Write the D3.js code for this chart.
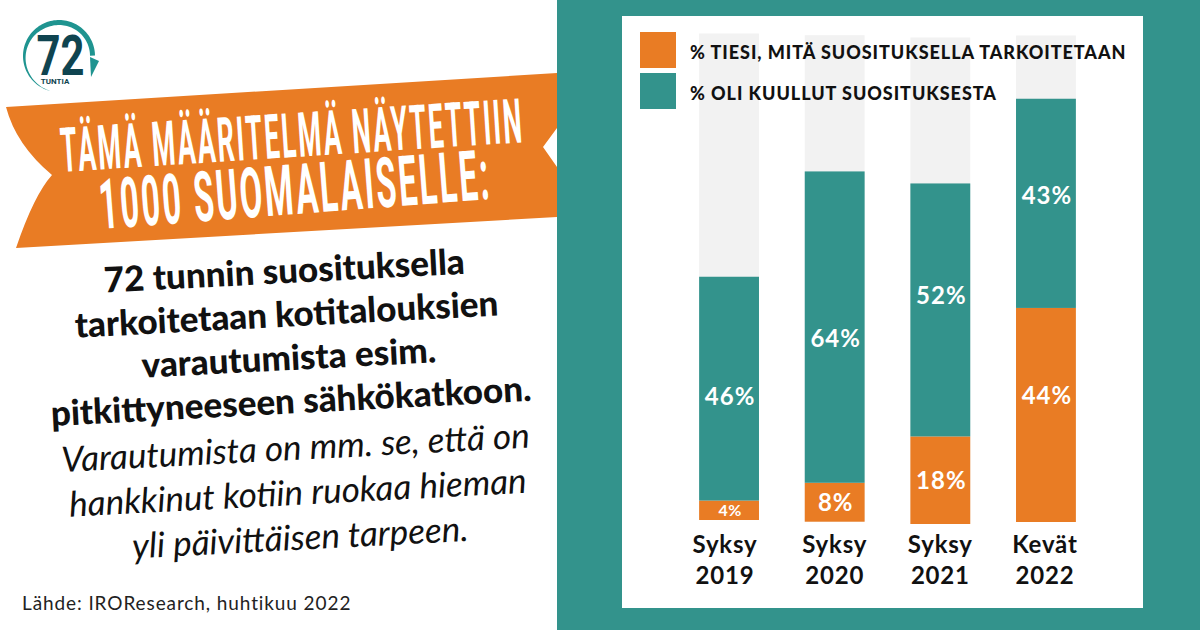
<!DOCTYPE html>
<html>
<head>
<meta charset="utf-8">
<script src="https://cdn.jsdelivr.net/npm/d3@7"></script>
<style>
  html, body { margin: 0; padding: 0; background: #fff; }
  svg { display: block; font-family: Lato, sans-serif; }
</style>
</head>
<body>
<script>
// chart values
const periods = ["Syksy 2019", "Syksy 2020", "Syksy 2021", "Kevät 2022"];
const knewMeaning = [4, 8, 18, 44];
const hadHeard = [46, 64, 52, 43];
const legendLabels = ["% TIESI, MITÄ SUOSITUKSELLA TARKOITETAAN", "% OLI KUULLUT SUOSITUKSESTA"];

// text of the left column
const bannerLines = ["TÄMÄ MÄÄRITELMÄ NÄYTETTIIN", "1000 SUOMALAISELLE:"];
const boldLines = ["72 tunnin suosituksella", "tarkoitetaan kotitalouksien", "varautumista esim.", "pitkittyneeseen sähkökatkoon."];
const italicLines = ["Varautumista on mm. se, että on", "hankkinut kotiin ruokaa hieman", "yli päivittäisen tarpeen."];
const sourceText = "Lähde: IROResearch, huhtikuu 2022";

const width = 1200;
const height = 630;
const orange = "#e97c24";
const teal = "#33938c";
const track = "#f2f2f2";

const svg = d3.select("body").append("svg")
	.attr("width", width)
	.attr("height", height)
	.attr("viewBox", [0, 0, width, height]);

svg.append("rect").attr("width", width).attr("height", height).attr("fill", "#fff");

// right hand panel
svg.append("rect").attr("x", 557).attr("width", 643).attr("height", height).attr("fill", teal);
svg.append("rect").attr("x", 622).attr("y", 16).attr("width", 521).attr("height", 592).attr("fill", "#fff");

// scales
const x = d3.scaleBand()
	.domain(periods)
	.range([678, 1097])
	.paddingInner(0.4333)
	.paddingOuter(0.2);

const y = d3.scaleLinear().domain([0, 100]).range([0, -486.5]);

// the source picture is a bit hand placed, each bar has its own baseline
const baselines = d3.scaleOrdinal().domain(periods).range([520, 521.7, 524, 522]);

const rows = periods.map((period, i) => ({period, knew: knewMeaning[i], heard: hadHeard[i]}));
const stacked = d3.stack().keys(["knew", "heard"])(rows);
const colors = d3.scaleOrdinal().domain(["knew", "heard"]).range([orange, teal]);

// value labels sit off centre in the source, pixels per bar
const labelNudge = {knew: [0, 0, 0, -20], heard: [8, 11, -15, -8]};

const bars = svg.append("g");

// grey 100 % tracks
bars.selectAll("rect.track")
	.data(rows)
	.join("rect")
	.attr("class", "track")
	.attr("x", (d) => x(d.period))
	.attr("width", x.bandwidth())
	.attr("y", (d) => baselines(d.period) + y(100))
	.attr("height", y(0) - y(100))
	.attr("fill", track);

const layer = bars.selectAll("g.layer")
	.data(stacked)
	.join("g")
	.attr("class", "layer")
	.attr("fill", (d) => colors(d.key));

layer.selectAll("rect")
	.data((d) => d)
	.join("rect")
	.attr("x", (d) => x(d.data.period))
	.attr("width", x.bandwidth())
	.attr("y", (d) => baselines(d.data.period) + y(d[1]))
	.attr("height", (d) => y(d[0]) - y(d[1]));

layer.each(function(series) {
	d3.select(this).selectAll("text")
		.data(series)
		.join("text")
		.attr("x", (d) => x(d.data.period) + x.bandwidth() / 2 + 1)
		.attr("y", (d, i) => baselines(d.data.period) + y((d[0] + d[1]) / 2) + labelNudge[series.key][i])
		.attr("dy", "0.36em")
		.attr("text-anchor", "middle")
		.attr("fill", "#fff")
		.attr("font-weight", 700)
		.attr("font-size", (d) => (d[1] - d[0] < 5 ? 16 : 24))
		.attr("letter-spacing", (d) => (d[1] - d[0] < 5 ? 0.3 : 1))
		.text((d) => `${d[1] - d[0]}%`);
});

// x axis, two line labels
const axis = svg.append("g")
	.attr("transform", "translate(0,553)")
	.call(d3.axisBottom(x).tickSize(0).tickPadding(0).tickFormat(""));
axis.select(".domain").remove();
axis.selectAll(".tick text").remove();
axis.selectAll(".tick").each(function(period, i) {
	const words = period.split(" ");
	const labelShift = [-4, 0, 0, -1][i];
	d3.select(this).selectAll("text")
		.data(words)
		.join("text")
		.attr("x", labelShift)
		.attr("y", (d, j) => j * 31)
		.attr("fill", "#111")
		.attr("text-anchor", "middle")
		.attr("font-family", "Lato, sans-serif")
		.attr("font-weight", 700)
		.attr("font-size", 24)
		.attr("letter-spacing", 0.8)
		.text((d) => d);
});

// legend
const legend = svg.append("g").selectAll("g")
	.data(legendLabels)
	.join("g")
	.attr("transform", (d, i) => `translate(640,${32 + i * 41})`);
legend.append("rect")
	.attr("width", 36)
	.attr("height", 36)
	.attr("fill", (d, i) => (i === 0 ? orange : teal));
legend.append("text")
	.attr("x", 50)
	.attr("y", 27)
	.attr("fill", "#111")
	.attr("font-weight", 900)
	.attr("font-size", 18)
	.attr("letter-spacing", 0.95)
	.text((d) => d);

// banner
const bannerPath = d3.path();
bannerPath.moveTo(6, 107);
bannerPath.lineTo(557, 73);
bannerPath.lineTo(557, 128);
bannerPath.lineTo(543, 147);
bannerPath.lineTo(557, 167);
bannerPath.lineTo(557, 217);
bannerPath.lineTo(16, 248);
bannerPath.quadraticCurveTo(34, 195, 52, 175);
bannerPath.quadraticCurveTo(16, 145, 6, 107);
bannerPath.closePath();
svg.append("path").attr("d", bannerPath.toString()).attr("fill", orange);

// no condensed face is installed, so squeeze Roboto to the measured width
const bannerSpots = [
	{x: 62, y: 172, length: 464, size: 62, angle: -3.7},
	{x: 101, y: 229, length: 393, size: 70, angle: -4.4},
];
svg.append("g").selectAll("text")
	.data(bannerLines)
	.join("text")
	.attr("fill", "#fff")
	.attr("font-family", "Roboto, sans-serif")
	.attr("font-weight", 700)
	.attr("font-size", (d, i) => bannerSpots[i].size)
	.attr("letter-spacing", 5)
	.text((d) => d)
	.attr("transform", function(d, i) {
		const spot = bannerSpots[i];
		const squeeze = spot.length / this.getComputedTextLength();
		return `translate(${spot.x},${spot.y}) rotate(${spot.angle}) scale(${squeeze},1)`;
	});

// definition text, tilted
const definition = svg.append("g").attr("transform", "translate(291,400) rotate(-3)");
definition.selectAll("text.bold")
	.data(boldLines)
	.join("text")
	.attr("class", "bold")
	.attr("y", (d, i) => -117 + i * 43.5)
	.attr("text-anchor", "middle")
	.attr("fill", "#111")
	.attr("font-weight", 900)
	.attr("font-size", 35)
	.text((d) => d);
definition.selectAll("text.italic")
	.data(italicLines)
	.join("text")
	.attr("class", "italic")
	.attr("x", 2)
	.attr("y", (d, i) => 60 + i * 45)
	.attr("text-anchor", "middle")
	.attr("fill", "#111")
	.attr("font-style", "italic")
	.attr("font-size", 35)
	.text((d) => d);

svg.append("text")
	.attr("x", 22)
	.attr("y", 610)
	.attr("fill", "#222")
	.attr("font-size", 19)
	.attr("letter-spacing", 0.9)
	.text(sourceText);

// logo, a ring that thins out towards its tail
const logo = svg.append("g").attr("transform", "translate(59,56)");
const ringAngles = d3.range(-0.92 * Math.PI, 0.5 * Math.PI, 0.05);
logo.append("path")
	.attr("d", d3.areaRadial()
		.angle((a) => a)
		.outerRadius(36)
		.innerRadius((a) => 36 - Math.min(5, 5 * (a + 0.92 * Math.PI) / 2.5))(ringAngles))
	.attr("fill", "#1f9490");
logo.append("path")
	.attr("d", d3.line()([[31, 1], [40, 5], [32, 21]]))
	.attr("fill", "#1f9490");
logo.append("text")
	.attr("x", 2)
	.attr("y", 19)
	.attr("fill", "#0f4450")
	.attr("font-family", "Roboto, sans-serif")
	.attr("font-weight", 700)
	.attr("font-size", 55)
	.attr("text-anchor", "middle")
	.attr("transform", "scale(0.76,1)")
	.text("72");
logo.append("text")
	.attr("x", -4)
	.attr("y", 28)
	.attr("text-anchor", "middle")
	.attr("fill", "#0f4450")
	.attr("font-family", "Roboto, sans-serif")
	.attr("font-weight", 700)
	.attr("font-size", 8)
	.text("TUNTIA");
</script>
</body>
</html>
